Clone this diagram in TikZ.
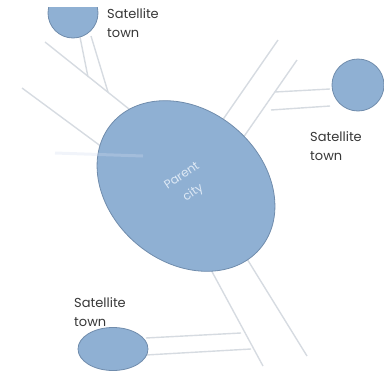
\documentclass[tikz,border=0pt]{standalone}
\usepackage{fontspec}
\setmainfont{Poppins}
\usetikzlibrary{shapes.geometric}
\definecolor{townfill}{RGB}{143,176,211}
\definecolor{townedge}{RGB}{112,140,172}
\definecolor{road}{RGB}{214,219,225}
\definecolor{labelgray}{RGB}{55,55,55}
\definecolor{citytext}{RGB}{222,233,245}
\definecolor{haze}{RGB}{210,220,240}
\begin{document}
\begin{tikzpicture}[x=1pt,y=-1pt,
  town/.style={ellipse, fill=townfill, draw=townedge, line width=0.8pt, inner sep=0pt},
  roadline/.style={draw=road, line width=1.4pt},
  caption/.style={anchor=north west, inner sep=0pt, align=left, text=labelgray,
    font=\fontsize{13}{19}\selectfont}]
\useasboundingbox (0,0) rectangle (384,378);
\clip (0,0) rectangle (384,378);

% road ends
\coordinate (nwA1) at (22,88);   \coordinate (nwA2) at (106,150);
\coordinate (nwB1) at (45,42);   \coordinate (nwB2) at (134,113);
\coordinate (neA1) at (278,40);  \coordinate (neA2) at (215,131);
\coordinate (neB1) at (297,60);  \coordinate (neB2) at (236,148);
\coordinate (seA1) at (263,366); \coordinate (seA2) at (203,255);
\coordinate (seB1) at (307,356); \coordinate (seB2) at (244,254);
% feeder road ends
\coordinate (fa1) at (80,37);   \coordinate (fa2) at (88,77);
\coordinate (fb1) at (91,36);   \coordinate (fb2) at (108,92);
\coordinate (fc1) at (330,89);  \coordinate (fc2) at (275,92);
\coordinate (fd1) at (330,106); \coordinate (fd2) at (271,110);
\coordinate (fe1) at (146,338); \coordinate (fe2) at (241,333);
\coordinate (ff1) at (146,355); \coordinate (ff2) at (251,349);
\coordinate (hz1) at (55,153);  \coordinate (hz2) at (143,156);

% main roads
\draw[roadline] (nwA1) -- (nwA2);
\draw[roadline] (nwB1) -- (nwB2);
\draw[roadline] (neA1) -- (neA2);
\draw[roadline] (neB1) -- (neB2);
\draw[roadline] (seA1) -- (seA2);
\draw[roadline] (seB1) -- (seB2);
% feeder roads
\draw[roadline] (fa1) -- (fa2);
\draw[roadline] (fb1) -- (fb2);
\draw[roadline] (fc1) -- (fc2);
\draw[roadline] (fd1) -- (fd2);
\draw[roadline] (fe1) -- (fe2);
\draw[roadline] (ff1) -- (ff2);

% parent city
\node[town, minimum width=194pt, minimum height=152pt, rotate=-40] (parent) at (186,186) {};
\draw[haze, line width=3pt, opacity=0.3] (hz1) -- (hz2);
\node[rotate=34, text=citytext, align=center, font=\fontsize{12}{20}\selectfont]
  (citylabel) at (188,185) {Parent\\city};

% satellite towns
\begin{scope}
  \clip (0,7) rectangle (384,378);
  \node[town, minimum width=50pt, minimum height=50pt] (townA) at (73,13) {};
\end{scope}
\node[town, minimum width=52pt, minimum height=52pt] (townB) at (358,85) {};
\node[town, minimum width=70pt, minimum height=43pt] (townC) at (113,349) {};

% captions
\node[caption] (capA) at (107,8) {Satellite\\town};
\node[caption] (capB) at (310,131) {Satellite\\town};
\node[caption] (capC) at (74,297) {Satellite\\town};
\end{tikzpicture}
\end{document}
